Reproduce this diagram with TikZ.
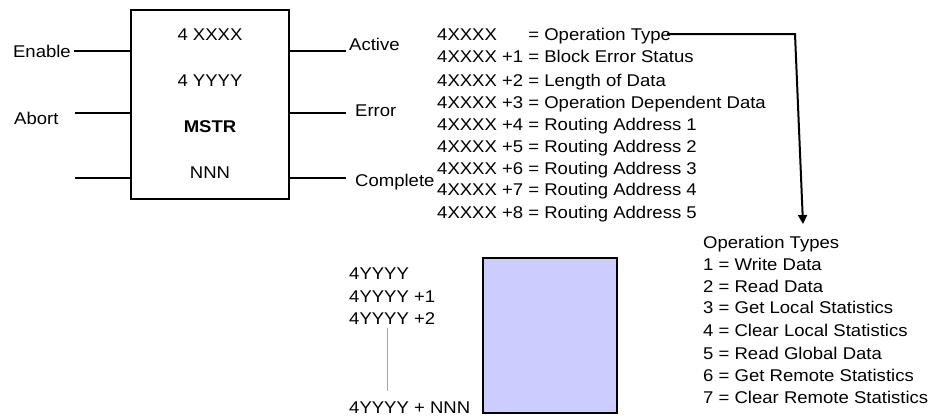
\documentclass[tikz,border=0pt]{standalone}
\usepackage{fontspec}
\setmainfont[FakeStretch=1.09]{Liberation Sans}
\usetikzlibrary{arrows.meta}
\begin{document}
\begin{tikzpicture}[x=1pt,y=-1pt,
  txt/.style={inner sep=0pt, anchor=base west, font=\fontsize{17}{20}\selectfont},
  ctxt/.style={inner sep=0pt, anchor=base, font=\fontsize{17}{20}\selectfont},
  wire/.style={line width=2pt},
  blockbox/.style={draw, line width=2.2pt, minimum width=158pt, minimum height=189pt, inner sep=0pt},
  memblock/.style={draw, line width=2.3pt, fill=memblue, minimum width=134pt, minimum height=155pt, inner sep=0pt}]
\definecolor{memblue}{RGB}{204,204,255}
\useasboundingbox (0,0) rectangle (934,415);
% main block
\node[blockbox] (mstr) at (210,104.5) {};
\node[ctxt] (xx) at (210,40) {4 XXXX};
\node[ctxt] (yy) at (210,86) {4 YYYY};
\node[ctxt] (mst) at (210,132) {\bfseries MSTR};
\node[ctxt] (nnn) at (210,178) {NNN};
% inputs
\node[txt, anchor=base east] (enable) at (71,57) {Enable};
\node[txt] (abort) at (14,124) {Abort};
\coordinate (in1) at (131,51);
\coordinate (in2) at (131,113);
\coordinate (in3) at (131,178);
\coordinate (a2) at (75,113);
\coordinate (a3) at (75,178);
\draw[wire] (enable.east |- in1) ++(3,0) -- (in1);
\draw[wire] (a2) -- (in2);
\draw[wire] (a3) -- (in3);
% outputs
\coordinate (o1) at (289,51);
\coordinate (o2) at (289,113);
\coordinate (o3) at (289,178);
\coordinate (e1) at (346,51);
\coordinate (e2) at (346,113);
\coordinate (e3) at (346,178);
\draw[wire] (o1) -- (e1);
\draw[wire] (o2) -- (e2);
\draw[wire] (o3) -- (e3);
\node[txt] (active) at (349,50) {Active};
\node[txt] (error) at (355,116) {Error};
\node[txt] (complete) at (355,186) {Complete};
% register list
\node[txt] (r0) at (437,40) {\rlap{4XXXX}\hphantom{4XXXX +1 }= Operation Type};
\node[txt] (r1) at (437,62) {4XXXX +1 = Block Error Status};
\node[txt] (r2) at (437,86) {4XXXX +2 = Length of Data};
\node[txt] (r3) at (437,108) {4XXXX +3 = Operation Dependent Data};
\node[txt] (r4) at (437,130) {4XXXX +4 = Routing Address 1};
\node[txt] (r5) at (437,152) {4XXXX +5 = Routing Address 2};
\node[txt] (r6) at (437,174) {4XXXX +6 = Routing Address 3};
\node[txt] (r7) at (437,195) {4XXXX +7 = Routing Address 4};
\node[txt] (r8) at (437,218) {4XXXX +8 = Routing Address 5};
% operation types
\node[txt] (ot) at (703,248) {Operation Types};
\node[txt] (t1) at (703,270) {1 = Write Data};
\node[txt] (t2) at (703,292) {2 = Read Data};
\node[txt] (t3) at (703,313) {3 = Get Local Statistics};
\node[txt] (t4) at (703,336) {4 = Clear Local Statistics};
\node[txt] (t5) at (703,359) {5 = Read Global Data};
\node[txt] (t6) at (703,381) {6 = Get Remote Statistics};
\node[txt] (t7) at (703,403) {7 = Clear Remote Statistics};
\coordinate (bend) at (795,34);
\coordinate (tip) at (803,224);
\draw[wire, -{Triangle[length=9pt,width=9pt]}] (r0.east |- bend) ++(-4,0) -- (bend) -- (tip);
% Y registers
\node[txt] (y0) at (349,279) {4YYYY};
\node[txt] (y1) at (349,302) {4YYYY +1};
\node[txt] (y2) at (349,324) {4YYYY +2};
\node[txt] (yn) at (349,413) {4YYYY + NNN};
\coordinate (g1) at (387,328);
\coordinate (g2) at (387,391);
\draw[gray!70, line width=0.6pt] (g1) -- (g2);
\node[memblock] (mem) at (550,335.5) {};
\end{tikzpicture}
\end{document}
